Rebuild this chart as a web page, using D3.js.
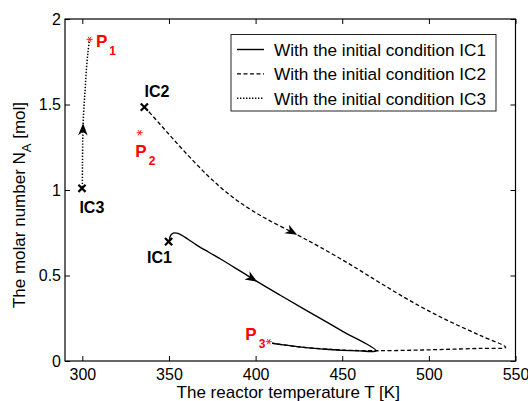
<!DOCTYPE html>
<html lang="en">
<head>
<meta charset="utf-8">
<title>Reactor phase plane</title>
<script src="https://cdn.jsdelivr.net/npm/d3@7/dist/d3.min.js"></script>
<style>
  body { margin: 0; background: #fff; }
  text { font-family: "Liberation Sans", Arial, sans-serif; }
  .box line, .box path { stroke: #000; }
</style>
</head>
<body>
<div id="chart"></div>
<script>
// trajectories: T [K], N_A [mol]
var ic1T = [350, 351, 352.5, 354.5, 357, 361, 366, 373, 380, 390, 400, 414, 430, 450, 469.5, 460, 450, 443, 434, 424, 416, 409.5];
var ic1N = [0.70, 0.735, 0.748, 0.748, 0.738, 0.712, 0.678, 0.636, 0.595, 0.533, 0.47, 0.386, 0.292, 0.175, 0.06, 0.059, 0.062, 0.067, 0.074, 0.084, 0.094, 0.104];

var ic2T = [336, 345, 352.7, 362, 372, 381, 391.2, 405, 424, 437.4, 455, 472, 491.3, 510.6, 529.9, 544.3, 530, 510, 490, 470, 455, 443, 424, 409.5];
var ic2N = [1.485, 1.383, 1.295, 1.192, 1.088, 1.005, 0.925, 0.838, 0.738, 0.665, 0.562, 0.456, 0.34, 0.238, 0.148, 0.08, 0.074, 0.068, 0.063, 0.06, 0.062, 0.068, 0.084, 0.104];

var ic3T = [300, 300.1, 300.25, 300.5, 301.1, 301.7, 302.3, 303.2, 304];
var ic3N = [1.0, 1.15, 1.3, 1.4, 1.51, 1.6, 1.70, 1.80, 1.87];

var seriesNames = ["With the initial condition IC1", "With the initial condition IC2", "With the initial condition IC3"];

// initial conditions (x marks) and end points (red stars)
var icNames = ["IC1", "IC2", "IC3"];
var icT = [349.8, 335.8, 299.8];
var icN = [0.698, 1.485, 1.01];
var icLabelT = [337.3, 335.9, 298.3];
var icLabelN = [0.575, 1.546, 0.864];

var pSub = ["1", "2", "3"];
var pT = [304.2, 333.1, 407.6];
var pN = [1.881, 1.335, 0.113];
var pLabelT = [307.9, 330.6, 394.1];
var pLabelN = [1.838, 1.193, 0.123];

// direction arrows: [fromT, fromN, tipT, tipN]
var arrows = [[394, 0.507, 400.9, 0.464], [417, 0.777, 424, 0.738], [300.3, 1.31, 300.45, 1.39]];

var xTicks = [300, 350, 400, 450, 500, 550];
var yTicks = [0, 0.5, 1, 1.5, 2];

var width = 528, height = 401;
var pLeft = 65, pRight = 515.5, pTop = 19, pBottom = 361;

var svg = d3.select("#chart").append("svg")
  .attr("width", width)
  .attr("height", height);

var x = d3.scaleLinear().domain([290, 550]).range([pLeft, pRight]);
var y = d3.scaleLinear().domain([0, 2]).range([pBottom, pTop]);

// box with inward ticks on all four sides
function styleAxis(g) {
  g.attr("class", "box");
  g.select(".domain").remove();
  g.selectAll("text").attr("font-size", 16).attr("fill", "#000");
}
svg.append("g").attr("transform", "translate(0," + pBottom + ")")
  .call(d3.axisBottom(x).tickValues(xTicks).tickSizeInner(-5).tickSizeOuter(0).tickPadding(8).tickFormat(d3.format("d")))
  .call(styleAxis);
svg.append("g").attr("transform", "translate(0," + pTop + ")")
  .call(d3.axisTop(x).tickValues(xTicks).tickSizeInner(-5).tickSizeOuter(0).tickFormat(""))
  .call(styleAxis);
svg.append("g").attr("transform", "translate(" + pLeft + ",0)")
  .call(d3.axisLeft(y).tickValues(yTicks).tickSizeInner(-5).tickSizeOuter(0).tickPadding(4).tickFormat(d3.format("")))
  .call(styleAxis);
svg.append("g").attr("transform", "translate(" + pRight + ",0)")
  .call(d3.axisRight(y).tickValues(yTicks).tickSizeInner(-5).tickSizeOuter(0).tickFormat(""))
  .call(styleAxis);

svg.append("rect")
  .attr("x", pLeft).attr("y", pTop)
  .attr("width", pRight - pLeft).attr("height", pBottom - pTop)
  .attr("fill", "none").attr("stroke", "#000").attr("stroke-width", 1.2);

var line = d3.line()
  .x(function (d) { return x(d[0]); })
  .y(function (d) { return y(d[1]); })
  .curve(d3.curveCatmullRom.alpha(0.5));

var traj = [
  { T: ic1T, N: ic1N, dash: null, w: 1.4 },
  { T: ic2T, N: ic2N, dash: "4,2.5", w: 1.3 },
  { T: ic3T, N: ic3N, dash: "1.4,1.6", w: 1.5 }
];

traj.forEach(function (s) {
  svg.append("path")
    .datum(d3.zip(s.T, s.N))
    .attr("d", line)
    .attr("fill", "none")
    .attr("stroke", "#000")
    .attr("stroke-width", s.w)
    .attr("stroke-dasharray", s.dash);
});

// arrow heads
arrows.forEach(function (a) {
  var x0 = x(a[0]), y0 = y(a[1]), x1 = x(a[2]), y1 = y(a[3]);
  var ang = Math.atan2(y1 - y0, x1 - x0) * 180 / Math.PI;
  svg.append("path")
    .attr("d", "M0,0L-12,-4.8L-8.5,0L-12,4.8Z")
    .attr("transform", "translate(" + x1 + "," + y1 + ") rotate(" + ang + ")")
    .attr("fill", "#000");
});

// x marks for the initial conditions
icT.forEach(function (t, i) {
  var cx = x(t), cy = y(icN[i]), r = 3.6;
  svg.append("path")
    .attr("d", "M" + (cx - r) + "," + (cy - r) + "L" + (cx + r) + "," + (cy + r) +
      "M" + (cx - r) + "," + (cy + r) + "L" + (cx + r) + "," + (cy - r))
    .attr("stroke", "#000").attr("stroke-width", 2.2);
  svg.append("text")
    .attr("x", x(icLabelT[i])).attr("y", y(icLabelN[i]))
    .attr("font-size", 16).attr("font-weight", "bold")
    .text(icNames[i]);
});

// red asterisks for the final points
pT.forEach(function (t, i) {
  var cx = x(t), cy = y(pN[i]), r = 3, d = "";
  [0, 60, 120].forEach(function (deg) {
    var rad = deg * Math.PI / 180, dx = r * Math.cos(rad), dy = r * Math.sin(rad);
    d += "M" + (cx - dx) + "," + (cy - dy) + "L" + (cx + dx) + "," + (cy + dy);
  });
  svg.append("path").attr("d", d).attr("stroke", "#ff1a1a").attr("stroke-width", 1);
  var lab = svg.append("text")
    .attr("x", x(pLabelT[i])).attr("y", y(pLabelN[i]))
    .attr("font-size", 17).attr("font-weight", "bold").attr("fill", "#ff0000");
  lab.append("tspan").text("P");
  lab.append("tspan").attr("dx", 2).attr("dy", 8).attr("font-size", 12).text(pSub[i]);
});

// legend
var lg = svg.append("g").attr("transform", "translate(231,34.5)");
lg.append("rect").attr("width", 265).attr("height", 76.5)
  .attr("fill", "#fff").attr("stroke", "#222").attr("stroke-width", 1);
seriesNames.forEach(function (name, i) {
  var yy = 15 + i * 24.4;
  lg.append("line")
    .attr("x1", 6).attr("x2", 33).attr("y1", yy).attr("y2", yy)
    .attr("stroke", "#000").attr("stroke-width", traj[i].w)
    .attr("stroke-dasharray", traj[i].dash);
  lg.append("text")
    .attr("x", 43).attr("y", yy + 6.5)
    .attr("font-size", 17.2)
    .text(name);
});

// axis titles
svg.append("text")
  .attr("x", (pLeft + pRight) / 2 - 2).attr("y", 398)
  .attr("text-anchor", "middle").attr("font-size", 17)
  .text("The reactor temperature T [K]");

var yl = svg.append("text")
  .attr("transform", "translate(25,205) rotate(-90)")
  .attr("text-anchor", "middle").attr("font-size", 17);
yl.append("tspan").text("The molar number N");
yl.append("tspan").attr("dy", 6).attr("font-size", 13).text("A");
yl.append("tspan").attr("dy", -6).text(" [mol]");
</script>
</body>
</html>
